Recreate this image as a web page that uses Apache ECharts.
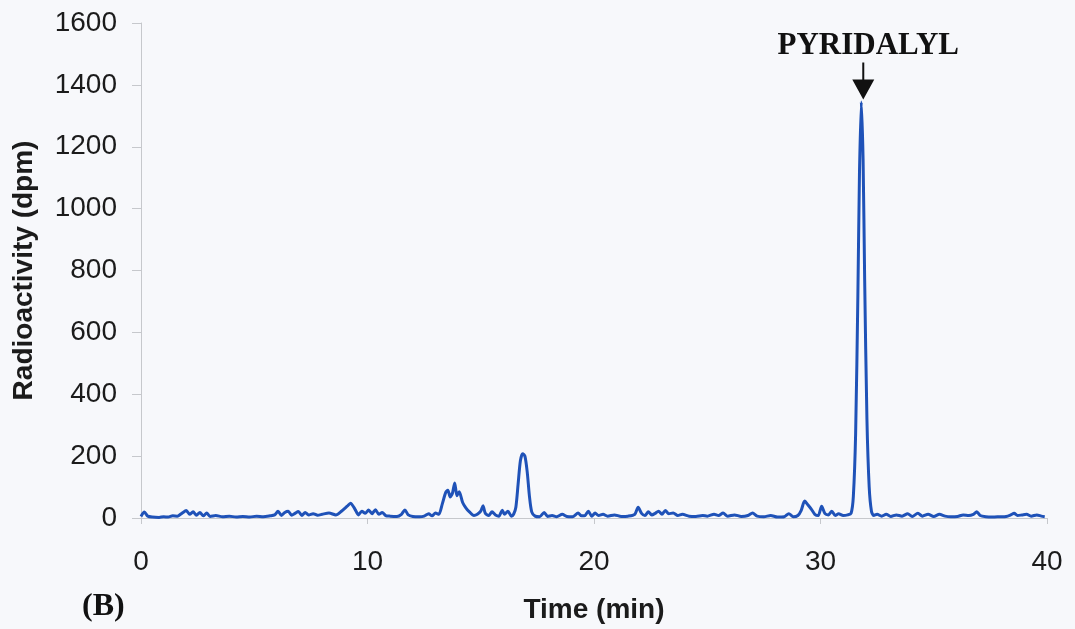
<!DOCTYPE html>
<html>
<head>
<meta charset="utf-8">
<script src="https://cdn.jsdelivr.net/npm/echarts@6/dist/echarts.min.js"></script>
<style>
  html, body { margin: 0; padding: 0; background: #f7f8fb; }
  #chart { width: 1075px; height: 629px; }
</style>
</head>
<body>
<div id="chart"></div>
<script>
// retention time (min) and radioactivity (dpm)
const times = [
  0.0, 0.15, 0.3, 0.5, 0.8, 1.0, 1.2, 1.4, 1.6, 1.8, 2.0, 2.15, 2.3, 2.45, 2.6, 2.75, 2.9, 3.05, 3.3, 3.6,
  3.9, 4.2, 4.5, 4.8, 5.1, 5.4, 5.7, 5.9, 6.05, 6.2, 6.35, 6.5, 6.65, 6.8, 6.95, 7.1, 7.25, 7.4, 7.6, 7.8,
  8.0, 8.3, 8.6, 8.85, 9.1, 9.25, 9.45, 9.6, 9.75, 9.9, 10.05, 10.2, 10.35, 10.5, 10.65, 10.8, 11.0, 11.3, 11.5, 11.65,
  11.8, 12.0, 12.3, 12.5, 12.7, 12.85, 13.0, 13.15, 13.3, 13.45, 13.55, 13.65, 13.75, 13.85, 13.95, 14.05, 14.2, 14.35, 14.5, 14.7,
  14.85, 15.0, 15.1, 15.2, 15.35, 15.5, 15.65, 15.8, 15.95, 16.05, 16.2, 16.35, 16.45, 16.55, 16.65, 16.75, 16.85, 16.95, 17.05, 17.15,
  17.25, 17.4, 17.6, 17.8, 17.95, 18.15, 18.35, 18.6, 18.8, 19.05, 19.3, 19.45, 19.6, 19.75, 19.9, 20.05, 20.2, 20.4, 20.6, 20.9,
  21.2, 21.5, 21.8, 21.95, 22.1, 22.25, 22.4, 22.55, 22.7, 22.85, 23.0, 23.15, 23.3, 23.5, 23.7, 23.9, 24.2, 24.5, 24.8, 25.0,
  25.3, 25.5, 25.7, 25.9, 26.2, 26.5, 26.8, 27.0, 27.2, 27.5, 27.8, 28.1, 28.4, 28.6, 28.8, 29.0, 29.15, 29.3, 29.45, 29.6,
  29.75, 29.9, 30.05, 30.2, 30.35, 30.5, 30.65, 30.8, 31.0, 31.2, 31.35, 31.45, 31.55, 31.65, 31.72, 31.8, 31.88, 31.95, 32.05, 32.15,
  32.25, 32.35, 32.5, 32.7, 32.9, 33.1, 33.35, 33.6, 33.85, 34.05, 34.3, 34.5, 34.75, 35.0, 35.25, 35.5, 35.75, 36.05, 36.3, 36.55,
  36.75, 36.9, 37.05, 37.3, 37.6, 37.9, 38.2, 38.4, 38.55, 38.7, 38.9, 39.1, 39.3, 39.55, 39.75, 39.9
];
const dpm = [
  5, 19, 6, 3, 2, 4, 3, 7, 6, 15, 24, 12, 20, 9, 18, 7, 16, 5, 8, 4,
  6, 3, 5, 3, 6, 4, 7, 10, 22, 8, 18, 22, 9, 15, 21, 8, 18, 10, 14, 9,
  12, 16, 10, 22, 38, 48, 28, 10, 22, 15, 26, 14, 27, 12, 18, 8, 6, 5, 12, 26,
  10, 5, 4, 6, 14, 7, 16, 12, 45, 82, 90, 68, 80, 113, 72, 85, 50, 32, 20, 8,
  12, 22, 40, 15, 8, 20, 10, 6, 25, 12, 22, 6, 12, 35, 110, 185, 208, 200, 150, 70,
  20, 6, 4, 18, 5, 8, 4, 12, 5, 4, 16, 7, 8, 22, 6, 16, 8, 12, 6, 10,
  5, 6, 12, 35, 15, 8, 20, 10, 15, 22, 12, 24, 14, 16, 8, 12, 6, 5, 8, 6,
  12, 8, 16, 6, 10, 5, 8, 16, 6, 4, 8, 3, 4, 14, 4, 8, 25, 55, 42, 28,
  12, 8, 38, 14, 10, 22, 8, 14, 8, 10, 15, 70, 270, 720, 1110, 1345, 1160, 770, 320, 100,
  22, 8, 12, 6, 12, 5, 10, 6, 14, 5, 15, 6, 12, 5, 12, 6, 4, 5, 10, 8,
  12, 20, 8, 4, 3, 4, 5, 10, 15, 8, 10, 12, 6, 10, 6, 4
];
const peakName = "PYRIDALYL";
const peakAt = [31.8, 1345];

const points = times.map((t, i) => [t, dpm[i]]);

const chart = echarts.init(document.getElementById("chart"));
const axisGray = "#c6c8cc";
const inkColor = "#1b1b1b";

chart.setOption({
  backgroundColor: "#f7f8fb",
  animation: false,
  grid: { left: 141, right: 28, top: 23, bottom: 110 },
  xAxis: {
    type: "value",
    min: 0,
    max: 40,
    interval: 10,
    name: "Time (min)",
    nameLocation: "middle",
    nameGap: 78,
    nameTextStyle: { fontFamily: "Liberation Sans", fontSize: 28, fontWeight: "bold", color: inkColor },
    axisLine: { show: true, onZero: false, lineStyle: { color: axisGray, width: 1 } },
    axisTick: { show: true, length: 6, lineStyle: { color: axisGray } },
    axisLabel: { margin: 30, fontFamily: "Liberation Sans", fontSize: 28, color: inkColor },
    splitLine: { show: false }
  },
  yAxis: {
    type: "value",
    min: 0,
    max: 1600,
    interval: 200,
    name: "Radioactivity (dpm)",
    nameLocation: "middle",
    nameGap: 103,
    nameTextStyle: { fontFamily: "Liberation Sans", fontSize: 28, fontWeight: "bold", color: inkColor },
    axisLine: { show: true, lineStyle: { color: axisGray, width: 1 } },
    axisTick: { show: true, length: 9, lineStyle: { color: axisGray } },
    axisLabel: {
      margin: 24,
      fontFamily: "Liberation Sans",
      fontSize: 28,
      color: inkColor,
      formatter: function (v) {
        return String(v);
      }
    },
    splitLine: { show: false }
  },
  series: [
    {
      type: "line",
      data: points,
      showSymbol: false,
      smooth: 0.25,
      lineStyle: { color: "#1f52b8", width: 3 },
      itemStyle: { color: "#1f52b8" },
      markPoint: {
        silent: true,
        symbol: "path://M10,0 L12,0 L12,17 L22,17 L11,37 L0,17 L10,17 Z",
        symbolSize: [22, 37],
        symbolOffset: [2, -21],
        itemStyle: { color: "#111111" },
        label: {
          show: true,
          position: "top",
          distance: 1,
          offset: [5, 0],
          formatter: "{b}",
          fontFamily: "Liberation Serif",
          fontSize: 31,
          fontWeight: "bold",
          color: "#111111"
        },
        data: [{ name: peakName, coord: peakAt }]
      }
    }
  ],
  graphic: [
    {
      type: "text",
      left: 82,
      top: 591,
      style: {
        text: "(B)",
        font: "bold 32px 'Liberation Serif'",
        fill: "#111111"
      }
    }
  ]
});
</script>
</body>
</html>
